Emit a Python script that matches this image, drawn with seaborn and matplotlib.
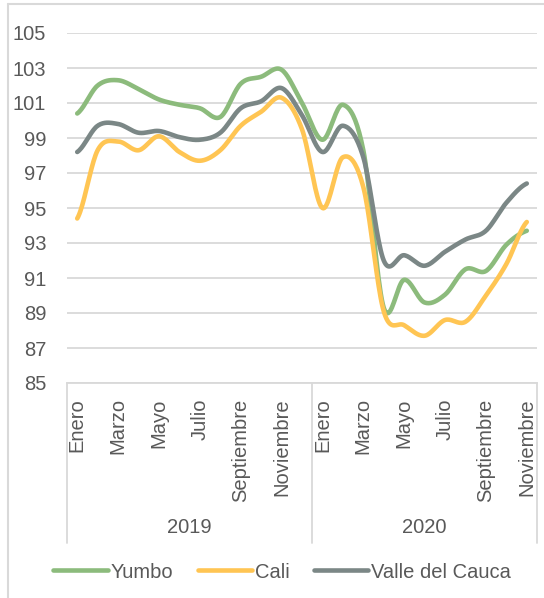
import numpy as np
import pandas as pd
import matplotlib
matplotlib.use('Agg')
import matplotlib.pyplot as plt
import matplotlib.transforms as mtrans
from matplotlib.lines import Line2D
import seaborn as sns

meses = ['Enero', 'Febrero', 'Marzo', 'Abril', 'Mayo', 'Junio', 'Julio', 'Agosto',
         'Septiembre', 'Octubre', 'Noviembre', 'Diciembre']
anios = ['2019', '2020']
n_meses = [12, 11]

yumbo = [100.4, 102.0, 102.3, 101.8, 101.2, 100.9, 100.7, 100.2, 102.1, 102.5, 102.9, 101.0,
         98.9, 100.9, 98.3, 89.3, 90.9, 89.6, 90.05, 91.5, 91.4, 92.9, 93.7]
cali = [94.4, 98.3, 98.8, 98.3, 99.1, 98.2, 97.7, 98.3, 99.7, 100.5, 101.3, 99.5,
        95.0, 97.9, 96.2, 89.1, 88.3, 87.7, 88.6, 88.5, 90.0, 91.8, 94.2]
valle = [98.2, 99.7, 99.8, 99.3, 99.4, 99.05, 98.9, 99.3, 100.7, 101.1, 101.85, 100.3,
         98.2, 99.7, 97.9, 92.0, 92.3, 91.7, 92.5, 93.2, 93.7, 95.3, 96.4]

series = {'Yumbo': yumbo, 'Cali': cali, 'Valle del Cauca': valle}
colores = {'Yumbo': '#8CBB7C', 'Cali': '#FFC553', 'Valle del Cauca': '#7B8786'}

gris_txt = '#595959'
gris_lin = '#D9D9D9'


def suavizar(y, pasos=20):
    # curva tipo Excel (Catmull-Rom)
    y = np.asarray(y, dtype=float)
    p = np.concatenate([[y[0]], y, [y[-1]]])
    xs, ys = [], []
    for i in range(len(y) - 1):
        p0, p1, p2, p3 = p[i], p[i + 1], p[i + 2], p[i + 3]
        t = np.linspace(0, 1, pasos, endpoint=False)
        v = 0.5 * (2 * p1 + (-p0 + p2) * t + (2 * p0 - 5 * p1 + 4 * p2 - p3) * t ** 2
                   + (-p0 + 3 * p1 - 3 * p2 + p3) * t ** 3)
        xs.extend(i + t)
        ys.extend(v)
    xs.append(len(y) - 1)
    ys.append(y[-1])
    return np.array(xs), np.array(ys)


filas = []
for nombre, vals in series.items():
    xs, ys = suavizar(vals)
    filas.append(pd.DataFrame({'x': xs, 'valor': ys, 'serie': nombre}))
df = pd.concat(filas, ignore_index=True)

sns.set_theme(style='white')
plt.rcParams['font.family'] = ['Liberation Sans Narrow', 'Liberation Sans', 'DejaVu Sans']

fig = plt.figure(figsize=(5.44, 5.98), dpi=100)
ax = fig.add_axes([67 / 544, 1 - 383 / 598, 470 / 544, 350 / 598])

sns.lineplot(data=df, x='x', y='valor', hue='serie', palette=colores, sort=False,
             estimator=None, linewidth=3.3, ax=ax, legend=False)
for l in ax.lines:
    l.set_solid_capstyle('round')

ax.set_xlim(-0.5, sum(n_meses) - 0.5)
ax.set_ylim(85, 105)
ax.set_yticks(np.arange(85, 106, 2))
ax.yaxis.grid(True, color=gris_lin, linewidth=1.3)
ax.set_axisbelow(True)
for s in ['top', 'right', 'left']:
    ax.spines[s].set_visible(False)
ax.spines['bottom'].set_color(gris_lin)
ax.spines['bottom'].set_linewidth(1.3)
ax.set_xlabel(None)
ax.set_ylabel(None)

pos, etiquetas = [], []
inicio = 0
for n in n_meses:
    for m in range(0, n, 2):
        pos.append(inicio + m)
        etiquetas.append(meses[m])
    inicio += n
ax.set_xticks(pos)
ax.set_xticklabels(etiquetas, rotation=90, va='top', ha='center')
ax.tick_params(axis='x', length=0, pad=11, labelsize=14.5, colors=gris_txt)
ax.tick_params(axis='y', length=0, pad=15, labelsize=14.5, colors=gris_txt)

# ejes de categorias de dos niveles
tr = mtrans.blended_transform_factory(ax.transData, ax.transAxes)
inicio = -0.5
for anio, n in zip(anios, n_meses):
    ax.plot([inicio, inicio], [0, -0.457], transform=tr, color=gris_lin, lw=1.3, clip_on=False)
    ax.text(inicio + n / 2, -0.414, anio, transform=tr, ha='center', va='center',
            fontsize=14.5, color=gris_txt)
    inicio += n
ax.plot([inicio, inicio], [0, -0.457], transform=tr, color=gris_lin, lw=1.3, clip_on=False)

manejadores = [Line2D([0], [0], color=colores[k], lw=3.3, solid_capstyle='round') for k in series]
fig.legend(manejadores, list(series.keys()), loc='center', bbox_to_anchor=(0.519, 1 - 572 / 598),
           ncol=3, frameon=False, handlelength=2.7, handletextpad=0.15, columnspacing=1.2,
           fontsize=14.5, labelcolor=gris_txt)

# marco del grafico
fig.add_artist(Line2D([8 / 544, 8 / 544], [0, 1 - 4 / 598], color=gris_lin, lw=1.5))
fig.add_artist(Line2D([8 / 544, 1], [1 - 4 / 598, 1 - 4 / 598], color=gris_lin, lw=1.5))

fig.savefig('out.png', dpi=100, facecolor='white')
